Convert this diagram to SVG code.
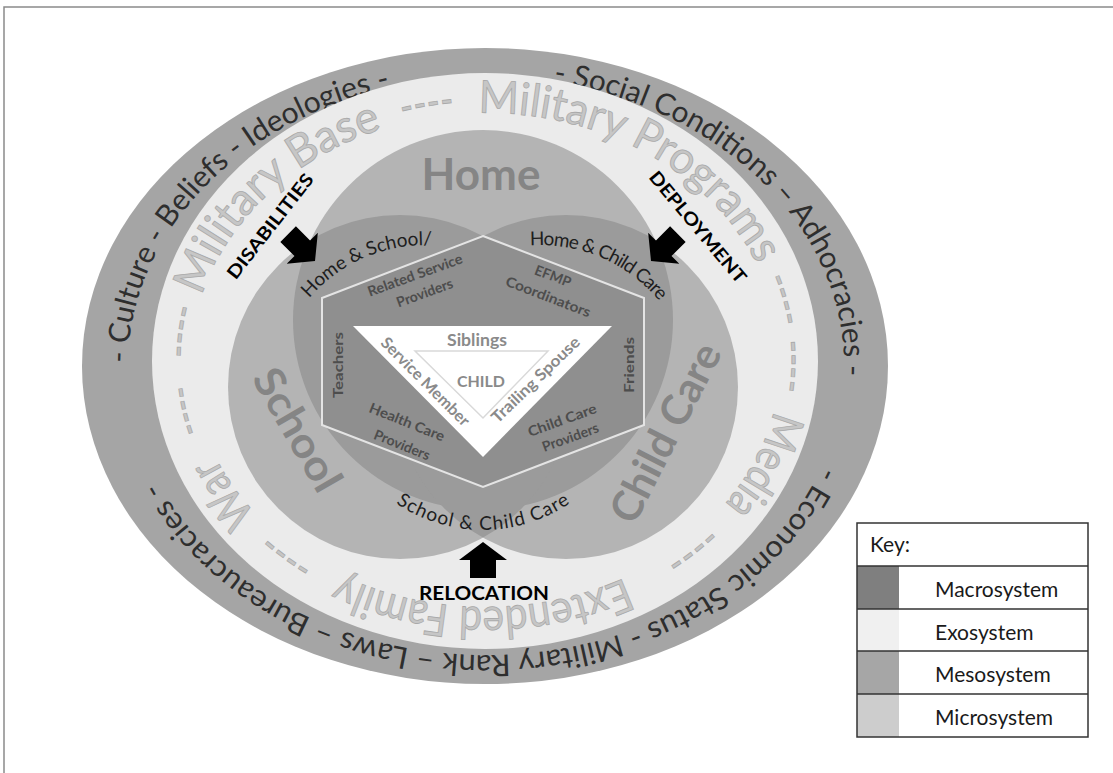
<svg xmlns="http://www.w3.org/2000/svg" width="1113" height="773" viewBox="0 0 1113 773">
<defs>
<style>
text { font-family: Lato, "Liberation Sans", sans-serif; }
.macroT { font-size: 30px; fill: #2e2e2e; }
.exoT { font-size: 45px; fill: #c6c6c6; stroke: #a9a9a9; stroke-width: 0.8; }
.venn { font-weight: bold; fill: #858585; text-anchor: middle; }
.mesoT { font-size: 19px; fill: #1e1e1e; text-anchor: middle; }
.hexT { font-size: 14px; font-weight: bold; fill: #4d4d4d; text-anchor: middle; }
.triT { font-weight: bold; fill: #8a8a8a; text-anchor: middle; }
.arrT { font-weight: bold; fill: #000; font-size: 18px; text-anchor: middle; }
.keyT { font-size: 21px; fill: #1a1a1a; }
.arrow { fill: #000; }
</style>
<path id="pOuter" d="M128,366 A358,289 0 1,1 844,366 A358,289 0 1,1 128,366"/>
<path id="pExo" d="M192,360 A294,247 0 1,1 780,360 A294,247 0 1,1 192,360"/>
<path id="pHS" d="M291.8,322.5 A155,155 0 0,1 466.1,250.3"/>
<path id="pHC" d="M499.9,250.3 A155,155 0 0,1 680.5,334.5"/>
<path id="pSC" d="M348.8,452.5 A155,155 0 0,0 617.2,452.5"/>
<clipPath id="clipHome"><circle cx="483" cy="320" r="190"/></clipPath>
<clipPath id="clipSchool"><circle cx="400" cy="387" r="172"/></clipPath>
</defs>

<rect width="1113" height="773" fill="#ffffff"/>
<path d="M4,773 V7 H1113" fill="none" stroke="#8a8a8a" stroke-width="1.5"/>

<g id="macrosystem">
<ellipse cx="485" cy="366" rx="403" ry="318" fill="#a5a5a5"/>
<text class="macroT"><textPath href="#pOuter" startOffset="3" textLength="410" lengthAdjust="spacingAndGlyphs">- Culture - Beliefs - Ideologies -</textPath></text>
<text class="macroT"><textPath href="#pOuter" startOffset="577" textLength="452" lengthAdjust="spacingAndGlyphs">- Social Conditions – Adhocracies -</textPath></text>
<text class="macroT"><textPath href="#pOuter" startOffset="1122" textLength="795" lengthAdjust="spacingAndGlyphs">- Economic Status - Military Rank – Laws – Bureaucracies -</textPath></text>
</g>

<g id="exosystem">
<ellipse cx="485" cy="361" rx="333" ry="288" fill="#ebebeb"/>
<text class="exoT"><textPath href="#pExo" startOffset="65" textLength="255" lengthAdjust="spacingAndGlyphs">Military Base</textPath></text>
<text class="exoT"><textPath href="#pExo" startOffset="342" textLength="52" lengthAdjust="spacingAndGlyphs">----</textPath></text>
<text class="exoT"><textPath href="#pExo" startOffset="418" textLength="334" lengthAdjust="spacingAndGlyphs">Military Programs</textPath></text>
<text class="exoT"><textPath href="#pExo" startOffset="768" textLength="50" lengthAdjust="spacingAndGlyphs">----</textPath></text>
<text class="exoT"><textPath href="#pExo" startOffset="832" textLength="50" lengthAdjust="spacingAndGlyphs">----</textPath></text>
<text class="exoT"><textPath href="#pExo" startOffset="902" textLength="107" lengthAdjust="spacingAndGlyphs">Media</textPath></text>
<text class="exoT"><textPath href="#pExo" startOffset="1036" textLength="54" lengthAdjust="spacingAndGlyphs">----</textPath></text>
<text class="exoT"><textPath href="#pExo" startOffset="1134" textLength="293" lengthAdjust="spacingAndGlyphs">Extended Family</textPath></text>
<text class="exoT"><textPath href="#pExo" startOffset="1455" textLength="52" lengthAdjust="spacingAndGlyphs">----</textPath></text>
<text class="exoT"><textPath href="#pExo" startOffset="1531" textLength="70" lengthAdjust="spacingAndGlyphs">War</textPath></text>
<text class="exoT"><textPath href="#pExo" startOffset="1630" textLength="47" lengthAdjust="spacingAndGlyphs">----</textPath></text>
<text class="exoT"><textPath href="#pExo" startOffset="2" textLength="50" lengthAdjust="spacingAndGlyphs">----</textPath></text>
</g>

<g id="node-home">
<circle cx="483" cy="320" r="190" fill="#b4b4b4"/>
</g>
<g id="node-school">
<circle cx="400" cy="387" r="172" fill="#b4b4b4"/>
</g>
<g id="node-childcare">
<circle cx="566" cy="387" r="172" fill="#b4b4b4"/>
</g>
<g id="mesosystem-overlaps" fill="#9b9b9b">
<circle cx="400" cy="387" r="172" clip-path="url(#clipHome)"/>
<circle cx="566" cy="387" r="172" clip-path="url(#clipHome)"/>
<circle cx="566" cy="387" r="172" clip-path="url(#clipSchool)"/>
</g>

<g id="venn-labels">
<text class="venn" x="481" y="190" font-size="44">Home</text>
<text class="venn" font-size="42" transform="translate(297,430) rotate(60)" y="14" textLength="135" lengthAdjust="spacingAndGlyphs">School</text>
<text class="venn" font-size="42" transform="translate(666,433) rotate(-63)" y="14" textLength="195" lengthAdjust="spacingAndGlyphs">Child Care</text>
<text class="mesoT"><textPath href="#pHS" startOffset="48.8%" textLength="138" lengthAdjust="spacing">Home &amp; School/</textPath></text>
<text class="mesoT"><textPath href="#pHC" startOffset="47.9%" textLength="146" lengthAdjust="spacing">Home &amp; Child Care</textPath></text>
<text class="mesoT"><textPath href="#pSC" startOffset="50%" textLength="185" lengthAdjust="spacing">School &amp; Child Care</textPath></text>
</g>

<g id="node-hexagon">
<polygon points="483,236 644,298 644,425 483,487 322,425 322,298" fill="#8f8f8f" stroke="#e4e4e4" stroke-width="2"/>
<g transform="translate(415,275) rotate(-20)">
<text class="hexT" x="0" y="5" textLength="100" lengthAdjust="spacingAndGlyphs">Related Service</text>
<text class="hexT" x="3" y="25">Providers</text>
</g>
<g transform="translate(553,276) rotate(21)">
<text class="hexT" x="0" y="5">EFMP</text>
<text class="hexT" x="3" y="26" textLength="90" lengthAdjust="spacingAndGlyphs">Coordinators</text>
</g>
<text class="hexT" transform="translate(338,365) rotate(-90)" y="5" fill="#333" textLength="66" lengthAdjust="spacingAndGlyphs">Teachers</text>
<text class="hexT" transform="translate(629,365) rotate(-90)" y="5" fill="#333" textLength="56" lengthAdjust="spacingAndGlyphs">Friends</text>
<g transform="translate(407,422) rotate(22)">
<text class="hexT" x="0" y="5" textLength="80" lengthAdjust="spacingAndGlyphs">Health Care</text>
<text class="hexT" x="4" y="28">Providers</text>
</g>
<g transform="translate(562,420) rotate(-20)">
<text class="hexT" x="0" y="5" textLength="72" lengthAdjust="spacingAndGlyphs">Child Care</text>
<text class="hexT" x="2" y="24">Providers</text>
</g>
</g>

<g id="node-child-triangle">
<polygon points="353,326 612,326 483,457" fill="#ffffff"/>
<polygon points="415,351 548,351 483,418" fill="none" stroke="#d9d9d9" stroke-width="1.5"/>
<text class="triT" x="477" y="346" font-size="17" textLength="60" lengthAdjust="spacingAndGlyphs">Siblings</text>
<text class="triT" x="481" y="387" font-size="16" fill="#000" textLength="48" lengthAdjust="spacingAndGlyphs">CHILD</text>
<text class="triT" font-size="16" transform="translate(425,382) rotate(45)" y="5" textLength="118" lengthAdjust="spacingAndGlyphs">Service Member</text>
<text class="triT" font-size="16" transform="translate(536,380) rotate(-44)" y="5" textLength="116" lengthAdjust="spacingAndGlyphs">Trailing Spouse</text>
</g>

<g id="connectors">
<polygon class="arrow" points="0,0 22,18 11,18 11,38 -11,38 -11,18 -22,18" transform="translate(315,261) rotate(135)"/>
<polygon class="arrow" points="0,0 22,18 11,18 11,38 -11,38 -11,18 -22,18" transform="translate(651,261) rotate(-135)"/>
<polygon class="arrow" points="483,542 507,560 496,560 496,578 470,578 470,560 459,560"/>
</g>

<g id="influence-labels">
<text class="arrT" transform="translate(270,226) rotate(-52)" y="6.5" textLength="128" lengthAdjust="spacingAndGlyphs">DISABILITIES</text>
<text class="arrT" transform="translate(698,227) rotate(50)" y="6.5" textLength="140" lengthAdjust="spacingAndGlyphs">DEPLOYMENT</text>
<text class="arrT" x="484" y="600" font-size="19" textLength="130" lengthAdjust="spacingAndGlyphs">RELOCATION</text>
</g>

<g id="key">
<rect x="857" y="523" width="231" height="214" fill="#ffffff"/>
<rect x="857" y="566" width="42" height="43" fill="#7f7f7f"/>
<rect x="857" y="609" width="42" height="42" fill="#f0f0f0"/>
<rect x="857" y="651" width="42" height="43" fill="#a6a6a6"/>
<rect x="857" y="694" width="42" height="43" fill="#cdcdcd"/>
<path d="M857,566 H1088 M857,609 H1088 M857,651 H1088 M857,694 H1088" stroke="#333" stroke-width="1.5"/>
<rect x="857" y="523" width="231" height="214" fill="none" stroke="#333" stroke-width="1.5"/>
<text class="keyT" x="870" y="552">Key:</text>
<text class="keyT" x="935" y="597">Macrosystem</text>
<text class="keyT" x="935" y="640">Exosystem</text>
<text class="keyT" x="935" y="682">Mesosystem</text>
<text class="keyT" x="935" y="725">Microsystem</text>
</g>
</svg>
